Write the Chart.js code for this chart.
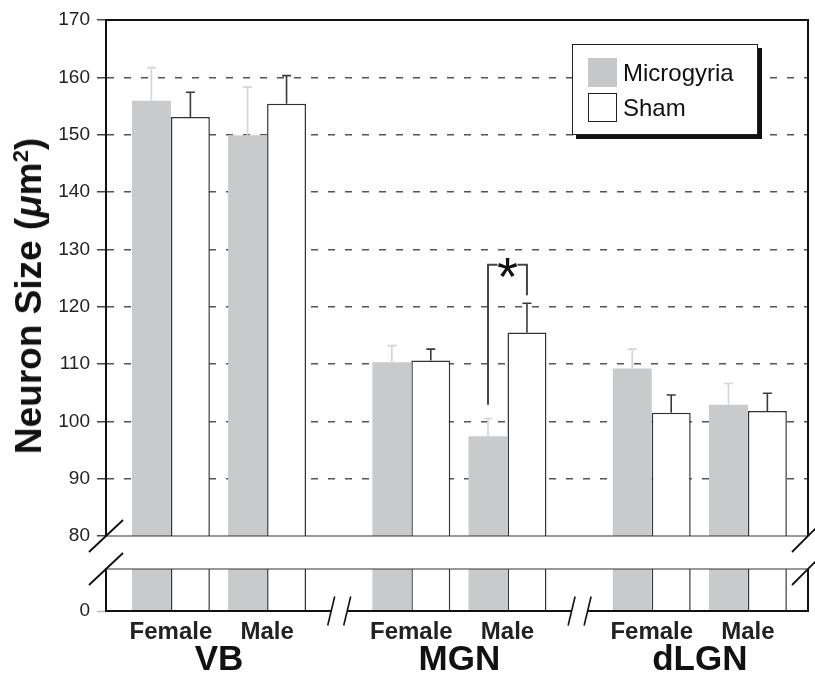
<!DOCTYPE html>
<html>
<head>
<meta charset="utf-8">
<script src="https://cdn.jsdelivr.net/npm/chart.js@4.4.0/dist/chart.umd.min.js"></script>
<style>
html, body { margin: 0; padding: 0; background: #fff; }
#wrap { position: relative; width: 815px; height: 680px; overflow: hidden; font-family: 'Liberation Sans', Arial, Helvetica, sans-serif; }
#cTop { position: absolute; left: 0; top: 0; }
#cBot { position: absolute; left: 0; top: 548px; }
#ytitle { position: absolute; left: 29px; top: 296px; transform: translate(-50%, -50%) rotate(-90deg); white-space: nowrap; font-weight: bold; font-size: 37px; color: #111; }
#ytitle sup { font-size: 60%; vertical-align: 0.6em; line-height: 0; }
#legend { position: absolute; left: 572px; top: 44px; width: 186px; height: 91px; box-sizing: border-box; border: 1.5px solid #222; background: #fff; box-shadow: 4px 4px 0 #111; }
.sw { position: absolute; left: 15px; width: 29px; height: 29px; box-sizing: border-box; }
.lt { position: absolute; left: 50px; height: 29px; line-height: 29px; font-size: 24px; color: #111; white-space: nowrap; }
</style>
</head>
<body>
<div id="wrap">
  <canvas id="cTop" width="815" height="556"></canvas>
  <canvas id="cBot" width="815" height="132"></canvas>
  <div id="ytitle">Neuron Size (<i>μ</i>m<sup>2</sup>)</div>
  <div id="legend">
    <div class="sw" style="top:13px;background:#c6c7c9;"></div>
    <div class="lt" id="lg0" style="top:13px;"></div>
    <div class="sw" style="top:48px;background:#fff;border:1.5px solid #222;"></div>
    <div class="lt" id="lg1" style="top:48px;"></div>
  </div>
</div>
<script>
// ---------------- data ----------------
const regions = ['VB', 'MGN', 'dLGN'];
const sexes = ['Female', 'Male'];
const seriesNames = ['Microgyria', 'Sham'];
const microgyria    = [155.9, 149.9, 110.3, 97.4, 109.2, 102.9];
const microgyriaSEM = [5.8, 8.4, 2.9, 3.1, 3.4, 3.7];
const sham          = [153.1, 155.4, 110.6, 115.5, 101.5, 101.8];
const shamSEM       = [4.3, 4.9, 2.0, 5.1, 3.1, 3.1];
const upperTicks = [80, 90, 100, 110, 120, 130, 140, 150, 160, 170];
const lowerTicks = [0];
const sigBracket = { index: 3, top: 127.3, leftEnd: 102.9, rightEnd: 122.0, label: '*' };

// ---------------- layout helpers ----------------
const FONT = "'Liberation Sans', Arial, Helvetica, sans-serif";
const GROUP_STEP = 5, SEX_STEP = 2;
const xPos = microgyria.map((_, i) => Math.floor(i / sexes.length) * GROUP_STEP + (i % sexes.length) * SEX_STEP);
const regionCenters = regions.map((_, r) => r * GROUP_STEP + SEX_STEP / 2);
const breakPos = regions.slice(1).map((_, r) => (r + 1) * GROUP_STEP - 1.5);
const X_MIN = -1.35, X_MAX = 13.25;
const toXY = arr => arr.map((v, i) => ({ x: xPos[i], y: v }));
const fixTicks = vals => scale => { scale.ticks = vals.map(v => ({ value: v })); };

document.getElementById('lg0').textContent = seriesNames[0];
document.getElementById('lg1').textContent = seriesNames[1];

const makeDatasets = () => [
  { label: seriesNames[0], data: toXY(microgyria), backgroundColor: '#c9cacc', borderWidth: 0, sem: microgyriaSEM, errColor: '#d4d4d4' },
  { label: seriesNames[1], data: toXY(sham), backgroundColor: '#ffffff', borderColor: '#333', borderWidth: 1.5, sem: shamSEM, errColor: '#3a3a3a' }
];

function slash(ctx, x, y, dx, dy) {
  ctx.beginPath(); ctx.moveTo(x - dx, y + dy); ctx.lineTo(x + dx, y - dy); ctx.stroke();
}

const upperPlugin = {
  id: 'upperDecor',
  afterDraw(chart) {
    const { ctx, chartArea: a, scales: { y } } = chart;
    ctx.save();
    // error bars
    chart.data.datasets.forEach((ds, di) => {
      const meta = chart.getDatasetMeta(di);
      meta.data.forEach((bar, i) => {
        const v = ds.data[i].y;
        const top = y.getPixelForValue(v + ds.sem[i]);
        const base = y.getPixelForValue(v);
        ctx.strokeStyle = ds.errColor; ctx.lineWidth = 1.6;
        ctx.beginPath();
        ctx.moveTo(bar.x, base); ctx.lineTo(bar.x, top);
        ctx.moveTo(bar.x - 4.5, top); ctx.lineTo(bar.x + 4.5, top);
        ctx.stroke();
      });
    });
    // frame
    ctx.strokeStyle = '#111'; ctx.lineWidth = 2;
    ctx.beginPath(); ctx.moveTo(a.left - 1, a.top); ctx.lineTo(a.right, a.top); ctx.lineTo(a.right, a.bottom); ctx.stroke();
    ctx.strokeStyle = '#333'; ctx.lineWidth = 1.2;
    ctx.beginPath(); ctx.moveTo(a.left, a.bottom); ctx.lineTo(a.right, a.bottom); ctx.stroke();
    // axis break marks
    ctx.strokeStyle = '#111'; ctx.lineWidth = 1.8;
    slash(ctx, a.left, a.bottom, 17, 16);
    slash(ctx, a.right, a.bottom, 16, 16);
    // significance bracket
    const mb = chart.getDatasetMeta(0).data[sigBracket.index];
    const sb = chart.getDatasetMeta(1).data[sigBracket.index];
    const xl = mb.x, xr = sb.x, yt = y.getPixelForValue(sigBracket.top);
    const cx = (xl + xr) / 2;
    ctx.strokeStyle = '#444'; ctx.lineWidth = 2;
    ctx.beginPath();
    ctx.moveTo(xl, y.getPixelForValue(sigBracket.leftEnd)); ctx.lineTo(xl, yt); ctx.lineTo(cx - 10, yt);
    ctx.moveTo(cx + 10, yt); ctx.lineTo(xr, yt); ctx.lineTo(xr, y.getPixelForValue(sigBracket.rightEnd));
    ctx.stroke();
    ctx.font = '54px ' + FONT; ctx.fillStyle = '#111'; ctx.textAlign = 'center'; ctx.textBaseline = 'alphabetic';
    const m = ctx.measureText(sigBracket.label);
    ctx.fillText(sigBracket.label, cx, yt + 2.5 + (m.actualBoundingBoxAscent - m.actualBoundingBoxDescent) / 2);
    ctx.restore();
  }
};

const lowerPlugin = {
  id: 'lowerDecor',
  afterDraw(chart) {
    const { ctx, chartArea: a, scales: { x } } = chart;
    ctx.save();
    ctx.strokeStyle = '#333'; ctx.lineWidth = 1.2;
    ctx.beginPath(); ctx.moveTo(a.left, a.top); ctx.lineTo(a.right, a.top); ctx.stroke();
    ctx.strokeStyle = '#111'; ctx.lineWidth = 2;
    ctx.beginPath(); ctx.moveTo(a.right, a.top); ctx.lineTo(a.right, a.bottom + 1); ctx.stroke();
    ctx.lineWidth = 1.8;
    slash(ctx, a.left, a.top, 17, 16);
    slash(ctx, a.right, a.top, 16, 16);
    // x-axis breaks
    breakPos.forEach(p => {
      const px = x.getPixelForValue(p);
      ctx.fillStyle = '#fff';
      ctx.fillRect(px - 8, a.bottom - 3, 16, 6);
      ctx.strokeStyle = '#111'; ctx.lineWidth = 1.6;
      slash(ctx, px - 8, a.bottom, 3.5, 14.5);
      slash(ctx, px + 8, a.bottom, 3.5, 14.5);
    });
    ctx.restore();
  }
};

const tickFont = { family: FONT, size: 19 };

new Chart(document.getElementById('cTop'), {
  type: 'bar',
  data: { datasets: makeDatasets() },
  options: {
    responsive: false, animation: false,
    layout: { padding: { top: 20, right: 7, bottom: 20, left: 0 } },
    plugins: { legend: { display: false }, tooltip: { enabled: false } },
    datasets: { bar: { categoryPercentage: 0.81, barPercentage: 1 } },
    scales: {
      x: { type: 'linear', min: X_MIN, max: X_MAX, offset: false, grid: { offset: false }, display: false, afterBuildTicks: fixTicks(xPos) },
      y: {
        type: 'linear', min: 80, max: 170,
        afterBuildTicks: fixTicks(upperTicks),
        afterFit: s => { s.width = 106; },
        ticks: { color: '#222', font: tickFont, padding: 7, autoSkip: false },
        grid: {
          color: c => (c.tick && (c.tick.value === 80 || c.tick.value === 170)) ? 'rgba(0,0,0,0)' : '#555',
          lineWidth: 1.5, tickLength: 9, tickColor: '#444', tickWidth: 1.5
        },
        border: { display: true, color: '#111', width: 2, dash: [7, 10], z: 1 }
      }
    }
  },
  plugins: [upperPlugin]
});

new Chart(document.getElementById('cBot'), {
  type: 'bar',
  data: { datasets: makeDatasets() },
  options: {
    responsive: false, animation: false,
    layout: { padding: { top: 21, right: 7, bottom: 0, left: 0 } },
    plugins: { legend: { display: false }, tooltip: { enabled: false } },
    datasets: { bar: { categoryPercentage: 0.81, barPercentage: 1 } },
    scales: {
      x: {
        type: 'linear', min: X_MIN, max: X_MAX, position: 'bottom', weight: 0, offset: false,
        afterBuildTicks: fixTicks(xPos), afterFit: s => { s.height = 30; },
        grid: { display: false, drawTicks: false, offset: false },
        border: { display: true, color: '#111', width: 2, z: 1 },
        ticks: { autoSkip: false, maxRotation: 0, padding: 9, color: '#222',
          font: { family: FONT, size: 24, weight: 'bold', lineHeight: 1 },
          callback: (v, i) => sexes[i % sexes.length] }
      },
      x2: {
        type: 'linear', min: X_MIN, max: X_MAX, position: 'bottom', weight: 1, offset: false,
        afterBuildTicks: fixTicks(regionCenters), afterFit: s => { s.height = 39; },
        grid: { display: false, drawTicks: false, offset: false },
        border: { display: false },
        ticks: { autoSkip: false, maxRotation: 0, padding: 2, color: '#111',
          font: { family: FONT, size: 35, weight: 'bold', lineHeight: 1 },
          callback: (v, i) => regions[i] }
      },
      y: {
        type: 'linear', min: 0, max: 10,
        afterBuildTicks: fixTicks(lowerTicks),
        afterFit: s => { s.width = 106; },
        ticks: { color: '#222', font: tickFont, padding: 7 },
        grid: { drawOnChartArea: false, tickLength: 9, tickColor: '#bbb', tickWidth: 1.5 },
        border: { display: true, color: '#111', width: 2, z: 1 }
      }
    }
  },
  plugins: [lowerPlugin]
});
</script>
</body>
</html>
